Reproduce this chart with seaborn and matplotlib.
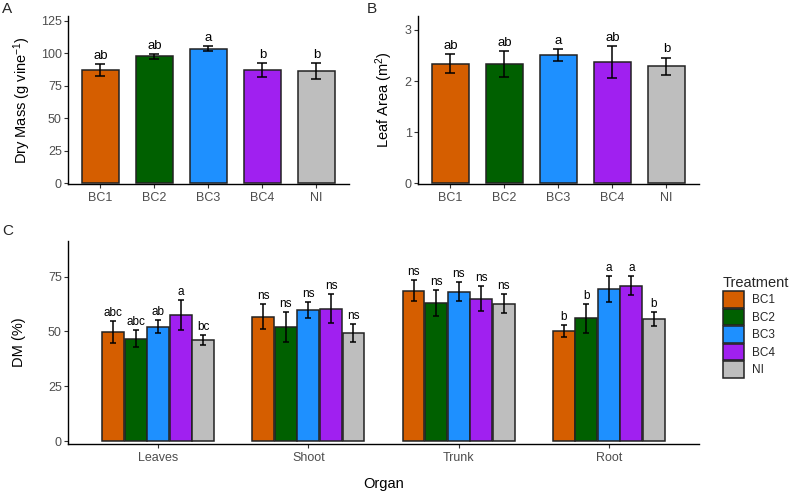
import numpy as np
import pandas as pd
import seaborn as sns
import matplotlib.pyplot as plt

treatments = ["BC1", "BC2", "BC3", "BC4", "NI"]
colors = ["#D55E00", "#006000", "#1E90FF", "#A020F0", "#BEBEBE"]

dry_mass = [87.0, 97.5, 103.5, 86.8, 86.0]
dry_mass_se = [4.5, 2.0, 2.0, 5.5, 6.2]
dry_mass_letters = ["ab", "ab", "a", "b", "b"]

leaf_area = [2.34, 2.33, 2.51, 2.37, 2.29]
leaf_area_se = [0.18, 0.25, 0.12, 0.32, 0.17]
leaf_area_letters = ["ab", "ab", "a", "ab", "b"]

organs = ["Leaves", "Shoot", "Trunk", "Root"]
dm_bc1 = [49.7, 56.8, 68.6, 50.2]
dm_bc2 = [46.7, 51.9, 63.0, 55.9]
dm_bc3 = [52.2, 59.8, 68.2, 69.4]
dm_bc4 = [57.5, 60.4, 65.0, 70.8]
dm_ni = [46.0, 49.2, 62.7, 55.7]
se_bc1 = [5.1, 5.7, 4.8, 2.9]
se_bc2 = [3.8, 6.8, 6.0, 6.6]
se_bc3 = [3.1, 3.7, 4.3, 5.8]
se_bc4 = [6.9, 6.6, 5.6, 4.3]
se_ni = [2.4, 4.1, 4.3, 3.0]
let_bc1 = ["abc", "ns", "ns", "b"]
let_bc2 = ["abc", "ns", "ns", "b"]
let_bc3 = ["ab", "ns", "ns", "a"]
let_bc4 = ["a", "ns", "ns", "a"]
let_ni = ["bc", "ns", "ns", "b"]

sns.set_theme(style="white")
plt.rcParams["font.family"] = ["Liberation Sans", "DejaVu Sans"]
plt.rcParams["mathtext.fontset"] = "custom"
plt.rcParams["mathtext.rm"] = "Liberation Sans"
plt.rcParams["mathtext.it"] = "Liberation Sans:italic"

EDGE = "#222222"
TICK_COL = "#4D4D4D"


def style_axis(ax):
    sns.despine(ax=ax)
    for s in ["left", "bottom"]:
        ax.spines[s].set_color("black")
        ax.spines[s].set_linewidth(1.0)
    ax.tick_params(axis="both", length=3, width=0.8, color="#333333",
                   labelcolor=TICK_COL, labelsize=9, left=True, bottom=True)
    ax.tick_params(axis="y", pad=1.5)
    ax.tick_params(axis="x", pad=2.5)


def simple_panel(ax, values, se, letters, ylim, yticks, ylabel, label_x):
    df = pd.DataFrame({"Treatment": treatments, "val": values, "se": se, "let": letters})
    sns.barplot(data=df, x="Treatment", y="val", hue="Treatment", palette=colors,
                order=treatments, hue_order=treatments, width=0.7, errorbar=None,
                saturation=1, edgecolor=EDGE, linewidth=1.1, legend=False, ax=ax)
    bars = list(ax.containers)
    for cont, (_, row) in zip(bars, df.iterrows()):
        bar = cont[0]
        xc = bar.get_x() + bar.get_width() / 2
        ax.errorbar(xc, row.val, yerr=row.se, color="black", linewidth=1.1,
                    capsize=3.9, capthick=1.1)
        ax.annotate(row.let, (xc, row.val + row.se), xytext=(0, 1.5),
                    textcoords="offset points", ha="center", va="bottom",
                    fontsize=9.5, color="black")
    ax.set_xlim(-0.6, 4.6)
    ax.set_ylim(*ylim)
    ax.set_yticks(yticks)
    ax.set_xlabel("")
    ax.set_ylabel(ylabel, fontsize=10.5, color="black")
    ax.yaxis.set_label_coords(label_x, 0.5)
    style_axis(ax)


fig = plt.figure(figsize=(7.91, 4.93), dpi=100)
axA = fig.add_axes([0.086, 0.6268, 0.355, 0.3407])
axB = fig.add_axes([0.5285, 0.6268, 0.355, 0.3407])
axC = fig.add_axes([0.086, 0.0988, 0.7977, 0.413])

simple_panel(axA, dry_mass, dry_mass_se, dry_mass_letters, (-0.5, 128.5),
             [0, 25, 50, 75, 100, 125], "Dry Mass (g vine$^{-1}$)", -0.125)
simple_panel(axB, leaf_area, leaf_area_se, leaf_area_letters, (-0.01, 3.27),
             [0, 1, 2, 3], "Leaf Area (m$^{2}$)", -0.082)

# panel C
dm_all = [dm_bc1, dm_bc2, dm_bc3, dm_bc4, dm_ni]
se_all = [se_bc1, se_bc2, se_bc3, se_bc4, se_ni]
let_all = [let_bc1, let_bc2, let_bc3, let_bc4, let_ni]
rows = []
for t, d, s, l in zip(treatments, dm_all, se_all, let_all):
    for o, dv, sv, lv in zip(organs, d, s, l):
        rows.append({"Organ": o, "Treatment": t, "DM": dv, "SE": sv, "Letter": lv})
dfc = pd.DataFrame(rows)

sns.barplot(data=dfc, x="Organ", y="DM", hue="Treatment", order=organs,
            hue_order=treatments, palette=colors, width=0.75, gap=0.03,
            saturation=1, errorbar=None, edgecolor=EDGE, linewidth=1.1, ax=axC)
bar_conts = list(axC.containers)
for cont, t in zip(bar_conts, treatments):
    sub = dfc[dfc.Treatment == t]
    for bar, (_, row) in zip(cont, sub.iterrows()):
        xc = bar.get_x() + bar.get_width() / 2
        axC.errorbar(xc, row.DM, yerr=row.SE, color="black", linewidth=1.1,
                     capsize=2.2, capthick=1.1)
        axC.annotate(row.Letter, (xc, row.DM + row.SE), xytext=(0, 1.5),
                     textcoords="offset points", ha="center", va="bottom",
                     fontsize=8.5, color="black")
axC.set_xlim(-0.6, 3.6)
axC.set_ylim(-1.5, 91.4)
axC.set_yticks([0, 25, 50, 75])
axC.set_ylabel("DM (%)", fontsize=10.5, color="black")
axC.yaxis.set_label_coords(-0.0666, 0.5)
axC.set_xlabel("Organ", fontsize=10.5, color="black")
axC.xaxis.set_label_coords(0.5, -0.16)
style_axis(axC)

handles = [c.patches[0] for c in bar_conts]
if axC.get_legend() is not None:
    axC.get_legend().remove()
leg = fig.legend(handles, treatments, title="Treatment", loc="upper left",
                 bbox_to_anchor=(0.914, 0.44), frameon=False, fontsize=8.5,
                 title_fontsize=10.5, handlelength=1.78, handleheight=1.78,
                 labelspacing=0.08, handletextpad=0.7, borderpad=0,
                 borderaxespad=0, alignment="left")

fig.text(0.003, 0.995, "A", fontsize=11, va="top", ha="left")
fig.text(0.464, 0.995, "B", fontsize=11, va="top", ha="left")
fig.text(0.003, 0.545, "C", fontsize=11, va="top", ha="left")

fig.savefig("out.png", dpi=100)
